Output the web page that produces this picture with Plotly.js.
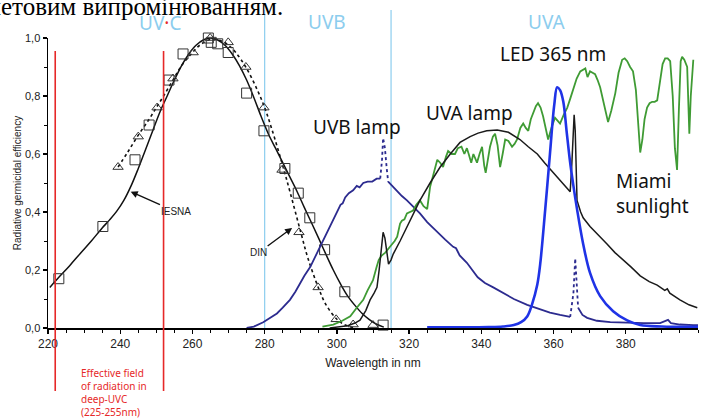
<!DOCTYPE html>
<html>
<head>
<meta charset="utf-8">
<script src="https://cdn.plot.ly/plotly-3.0.1.min.js"></script>
<style>html,body{margin:0;padding:0;background:#fff;}#chart{width:704px;height:419px;}</style>
</head>
<body>
<div id="chart"></div>
<script>
// ---- Data (wavelength in nm, relative efficiency / intensity) ----
const iesnaWl  = [220.5,223,226,229,232,235,237,239,241,243,245,247,249,251,253,255,257,259,261,263,265,267,269,271,273,275,277,279,281,283,285,287,289,291,293,295,297,299,301,303,305,307,309,311,313];
const iesnaEff = [0.14,0.175,0.215,0.258,0.3,0.345,0.372,0.402,0.44,0.49,0.55,0.615,0.68,0.745,0.8,0.855,0.905,0.945,0.975,0.993,1.0,0.993,0.975,0.945,0.905,0.855,0.795,0.73,0.67,0.62,0.57,0.52,0.47,0.415,0.362,0.308,0.253,0.2,0.152,0.11,0.078,0.05,0.029,0.013,0.003];
const iesnaSqWl  = [223,235.2,244.1,248,253.5,257.4,264.4,265.2,267,269.9,275,279.8,285.6,289.3,292.5,296.6,302.2,312.8];
const iesnaSqEff = [0.17,0.35,0.58,0.70,0.855,0.945,1.0,0.985,0.98,0.95,0.81,0.68,0.55,0.465,0.38,0.27,0.125,0.01];

const dinWl  = [239.4,242,245,248,250,252,254.6,257,260,262,265,268,270,272,275,278,280,282,285,287,290,292,295,297,300,302,305];
const dinEff = [0.555,0.605,0.665,0.72,0.76,0.8,0.855,0.905,0.95,0.975,0.995,0.99,0.975,0.95,0.895,0.82,0.76,0.685,0.56,0.47,0.33,0.24,0.135,0.08,0.03,0.012,0.0];
const dinTriWl  = [239.4,245,250.2,254.6,260.2,264.9,269.9,274.8,279.8,284.8,289.5,294.8,299.8,304.5,310];
const dinTriEff = [0.555,0.66,0.76,0.86,0.95,1.0,0.985,0.9,0.76,0.545,0.33,0.14,0.03,0.012,0.01];

// UVB lamp: solid parts (null = gap) and dotted line spikes
const uvbLampWl  = [275,277,279.6,281.5,283.4,285,287,288.5,289.8,291,292.6,294,295.3,296.5,297.6,299,300,301,301.6,302.3,303.3,304.5,305.5,306.3,307.3,308.5,309.8,311,312,null,
                    314.2,316,318,319.4,321,323,325,327.8,330,332.2,333,334,336,339,341,343.3,346,349,352.7,356,359,361.8,364.6,null,
                    366.8,368,369.3,372,375.7,380,385,389.5,390.8,391.7,392.5,395,398.7,400];
const uvbLampVal = [0,0.005,0.02,0.035,0.05,0.07,0.097,0.125,0.155,0.18,0.21,0.245,0.28,0.31,0.34,0.37,0.4,0.425,0.43,0.45,0.465,0.475,0.49,0.485,0.5,0.505,0.505,0.515,0.515,null,
                    0.505,0.48,0.455,0.44,0.42,0.395,0.365,0.33,0.305,0.28,0.275,0.25,0.225,0.175,0.155,0.14,0.12,0.1,0.08,0.065,0.053,0.045,0.038,null,
                    0.07,0.045,0.035,0.025,0.02,0.018,0.017,0.017,0.025,0.028,0.017,0.012,0.01,0.01];
const uvbSpikeWl  = [312,312.5,312.8,313.3,313.8,314.2,null,364.6,365.5,366,366.4,366.8];
const uvbSpikeVal = [0.515,0.58,0.655,0.62,0.55,0.505,null,0.038,0.12,0.24,0.15,0.07];

const uvaLampWl  = [298,301,303,305,306.4,308,309.2,310.3,311.1,311.7,312.2,312.8,313.3,313.9,314.3,315,315.6,317.5,320.3,323,325.8,328.6,331.4,334.1,336.9,339.1,341.5,344.4,347.5,350.7,353,355.5,357.5,359.9,362,363.8,364.6,365,365.4,365.7,366,366.5,367.5,368.2,370.1,372.5,374.8,377,379.3,381.5,384,386.5,388.7,390.8,391.5,392.2,395,397.5,399.8];
const uvaLampVal = [0,0.004,0.008,0.017,0.027,0.06,0.097,0.12,0.14,0.2,0.27,0.33,0.31,0.26,0.22,0.235,0.255,0.3,0.37,0.44,0.5,0.555,0.6,0.64,0.66,0.672,0.68,0.683,0.675,0.65,0.625,0.6,0.57,0.535,0.505,0.48,0.47,0.55,0.7,0.735,0.68,0.44,0.4,0.38,0.35,0.32,0.29,0.26,0.235,0.21,0.18,0.16,0.148,0.13,0.135,0.12,0.097,0.08,0.07];

const sunWl  = [296,299,301.5,303.7,305.5,307.3,308.5,310,311,311.6,312.4,313.4,314.7,316,316.7,317.5,318,318.7,319.4,321.1,322,323,324,325,325.8,326.8,327.8,328.6,329.4,330.2,330.8,331.8,332.7,333.5,334.5,335.3,336,336.5,337.2,337.8,338.8,339.5,340.2,340.8,341.2,341.8,342.4,343.2,343.8,344.5,345.2,345.9,346.6,347.5,348.5,349.2,349.9,350.8,351.6,352.3,353,353.7,354.4,355.1,355.7,356.4,357.1,357.8,358.5,359.4,360.4,361.1,361.8,362.8,363.8,364.6,365.4,366.4,367.4,368.1,368.8,369.4,370.1,370.8,371.5,372.2,372.9,374,375.1,376,377.1,378,379,379.7,380.4,381.2,382,382.8,383.5,384,384.6,385.2,385.9,386.6,387.3,388,388.7,389.5,390.2,390.9,391.6,392.3,393,393.6,394.2,394.7,395.2,395.6,396.2,397,397.3,397.6,398,398.4,398.7];
const sunVal = [0.005,0.012,0.025,0.04,0.07,0.097,0.13,0.165,0.21,0.235,0.25,0.26,0.28,0.3,0.315,0.36,0.37,0.375,0.395,0.405,0.425,0.44,0.42,0.41,0.486,0.53,0.58,0.57,0.555,0.59,0.61,0.6,0.6,0.62,0.625,0.6,0.62,0.6,0.57,0.6,0.57,0.6,0.625,0.56,0.535,0.58,0.625,0.66,0.67,0.63,0.555,0.6,0.65,0.645,0.625,0.635,0.65,0.69,0.705,0.69,0.68,0.72,0.74,0.765,0.775,0.76,0.73,0.69,0.65,0.69,0.725,0.715,0.705,0.735,0.76,0.79,0.82,0.86,0.885,0.89,0.895,0.865,0.885,0.88,0.875,0.855,0.83,0.77,0.71,0.75,0.81,0.88,0.925,0.93,0.92,0.9,0.885,0.82,0.68,0.605,0.65,0.72,0.76,0.775,0.78,0.78,0.785,0.85,0.91,0.93,0.93,0.92,0.8,0.62,0.545,0.75,0.92,0.935,0.925,0.9,0.75,0.67,0.8,0.9,0.925];

const ledWl  = [325,335,342,346,349,351,352.7,354,355.5,356.3,357.7,359,360.2,361,361.8,362.7,363.6,364.5,365.5,366.5,368.2,370.1,372.9,376.5,380.4,384,390,400];
const ledVal = [0.002,0.002,0.003,0.005,0.01,0.02,0.04,0.08,0.15,0.22,0.41,0.6,0.77,0.83,0.82,0.78,0.68,0.58,0.49,0.41,0.29,0.19,0.11,0.058,0.026,0.01,0.005,0.004];

const xTickVals = [220,240,260,280,300,320,340,360,380];
const yTickVals = [0,0.2,0.4,0.6,0.8,1.0];
const bandEdges = [280,315];
const deepUvcEdges = [222,252];

// ---- helpers for placing text relative to the plot frame (pixels) ----
const L = 48, R = 6, T = 38, B = 91, W = 704, H = 419;
const pw = W - L - R, ph = H - T - B;
const pxX = p => (p - L) / pw;
const pxY = p => (H - B - p) / ph;

const navy = '#2c2b8f', green = '#3f9b34', ledBlue = '#1f33e6', lightBlue = '#8ccdee', red = '#e62828';

const traces = [
  {x: iesnaWl, y: iesnaEff, mode: 'lines', line: {color: '#111', width: 1.5, shape: 'spline', smoothing: 1}},
  {x: dinWl, y: dinEff, mode: 'lines', line: {color: '#111', width: 1.6, dash: 'dot', shape: 'spline'}},
  {x: iesnaSqWl, y: iesnaSqEff, mode: 'markers', cliponaxis: false,
   marker: {symbol: 'square-open', size: 10, color: '#333', line: {width: 1, color: '#333'}}},
  {x: dinTriWl, y: dinTriEff, mode: 'markers', cliponaxis: false,
   marker: {symbol: 'triangle-up-open', size: 9, color: '#333', line: {width: 1, color: '#333'}}},
  {x: uvbLampWl, y: uvbLampVal, mode: 'lines', connectgaps: false, line: {color: navy, width: 1.8}},
  {x: uvbSpikeWl, y: uvbSpikeVal, mode: 'lines', connectgaps: false, line: {color: navy, width: 1.8, dash: 'dot'}},
  {x: sunWl, y: sunVal, mode: 'lines', line: {color: green, width: 1.8}},
  {x: uvaLampWl, y: uvaLampVal, mode: 'lines', line: {color: '#1a1a1a', width: 1.5}},
  {x: ledWl, y: ledVal, mode: 'lines', line: {color: ledBlue, width: 2.6, shape: 'spline'}}
];

const labelFont = {family: 'Noto Sans, DejaVu Sans, sans-serif', size: 19, color: '#111'};
const bandFont = {family: 'Noto Sans, DejaVu Sans, sans-serif', size: 19, color: lightBlue};

function txt(px, py, text, font, extra) {
  return Object.assign({xref: 'paper', yref: 'paper', x: pxX(px), y: pxY(py), xanchor: 'center', yanchor: 'middle',
    showarrow: false, text: text, font: font}, extra || {});
}

const annotations = [
  txt(285, 22, 'ультрафіолетовим випромінюванням.',
      {family: 'Liberation Serif, Times New Roman, serif', size: 25, color: '#000'}, {xanchor: 'right', yanchor: 'bottom'}),
  txt(160, 23, 'UV<span style="color:' + red + '">·</span>C', bandFont),
  txt(327, 22, 'UVB', bandFont),
  txt(547, 22, 'UVA', bandFont),
  txt(357, 127, 'UVB lamp', labelFont),
  txt(469, 113, 'UVA lamp', labelFont),
  txt(553, 54, 'LED 365 nm', labelFont),
  txt(614, 193, 'Miami<br>sunlight', labelFont, {xanchor: 'left', align: 'left'}),
  {xref: 'x', yref: 'y', x: 242.9, y: 0.47, ax: 45, ay: 20, text: 'IESNA', showarrow: true,
   arrowhead: 2, arrowsize: 1, arrowwidth: 1.4, arrowcolor: '#111',
   font: {family: 'Liberation Sans, Arial, sans-serif', size: 10, color: '#222'}},
  {xref: 'x', yref: 'y', x: 287.6, y: 0.345, ax: -34, ay: 25, text: 'DIN', showarrow: true,
   arrowhead: 2, arrowsize: 1, arrowwidth: 1.4, arrowcolor: '#111',
   font: {family: 'Liberation Sans, Arial, sans-serif', size: 10, color: '#222'}},
  txt(79, 393, 'Effective field<br>of radiation in<br>deep-UVC<br>(225-255nm)',
      {family: 'Noto Sans, DejaVu Sans, sans-serif', size: 10, color: red}, {xanchor: 'left', align: 'left'})
];

const shapes = [];
bandEdges.forEach(v => shapes.push({type: 'line', xref: 'x', yref: 'paper', x0: v, x1: v, y0: 0, y1: pxY(10),
  line: {color: lightBlue, width: 1.2}, layer: 'below'}));
deepUvcEdges.forEach(v => shapes.push({type: 'line', xref: 'x', yref: 'paper', x0: v, x1: v, y0: pxY(391), y1: pxY(51),
  line: {color: red, width: 1.6}, layer: 'above'}));

const layout = {
  width: W, height: H,
  margin: {l: L, r: R, t: T, b: B, pad: 0},
  paper_bgcolor: '#fff', plot_bgcolor: '#fff',
  showlegend: false,
  separators: ', ',
  xaxis: {
    range: [220, 400], tickvals: xTickVals, ticks: 'outside', ticklen: 4, tickwidth: 1.4, tickcolor: '#000',
    showline: true, linecolor: '#000', linewidth: 2, showgrid: false, zeroline: false,
    minor: {tick0: 220, dtick: 5, ticks: 'outside', ticklen: 3, tickcolor: '#000', tickwidth: 1},
    tickfont: {family: 'Liberation Sans, Arial, sans-serif', size: 12, color: '#222'},
    title: {text: 'Wavelength in nm', standoff: 8, font: {family: 'Liberation Sans, Arial, sans-serif', size: 12, color: '#222'}}
  },
  yaxis: {
    range: [0, 1], tickvals: yTickVals, tickformat: '.1f', ticks: 'outside', ticklen: 4, tickwidth: 1.4, tickcolor: '#000',
    showline: true, linecolor: '#000', linewidth: 1.5, showgrid: false, zeroline: false,
    minor: {tick0: 0, dtick: 0.1, ticks: 'outside', ticklen: 3, tickcolor: '#000', tickwidth: 1},
    tickfont: {family: 'Liberation Sans, Arial, sans-serif', size: 11, color: '#222'},
    title: {text: 'Radiative germicidal efficiency', standoff: 1, font: {family: 'Liberation Sans, Arial, sans-serif', size: 10, color: '#222'}}
  },
  annotations: annotations,
  shapes: shapes
};

Plotly.newPlot('chart', traces, layout, {staticPlot: true, displayModeBar: false});
</script>
</body>
</html>
